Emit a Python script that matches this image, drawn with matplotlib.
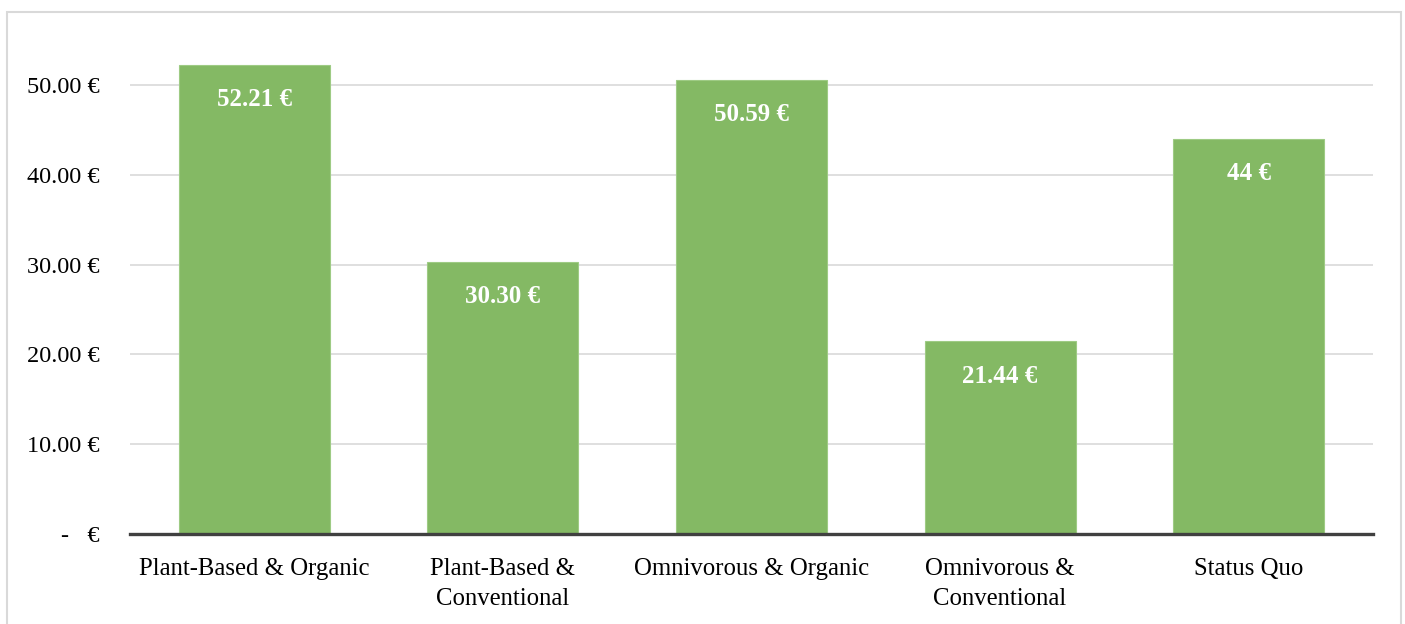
import matplotlib
matplotlib.use("Agg")
import matplotlib.pyplot as plt
from matplotlib.patches import Rectangle

categories = ["Plant-Based & Organic", "Plant-Based &\nConventional", "Omnivorous & Organic",
              "Omnivorous &\nConventional", "Status Quo"]
values = [52.21, 30.30, 50.59, 21.44, 44.0]
value_labels = ["52.21 €", "30.30 €", "50.59 €", "21.44 €", "44 €"]
yticks = [0, 10, 20, 30, 40, 50]
ytick_labels = ["-   €", "10.00 €", "20.00 €", "30.00 €", "40.00 €", "50.00 €"]

plt.rcParams['font.family'] = ['Liberation Serif', 'DejaVu Serif']

fig = plt.figure(figsize=(14.05, 6.24), dpi=100)
fig.patches.append(Rectangle((7/1405, -0.01), (1401-7)/1405, 1 - 12/624 + 0.01,
                             transform=fig.transFigure, fill=False,
                             edgecolor="#D9D9D9", linewidth=1.5))
ax = fig.add_axes([130/1405, 1 - 534/624, (1373-130)/1405, 57*8.98/624])

x = list(range(len(categories)))
ax.bar(x, values, width=0.607, color="#84B964", edgecolor="#9ECB84", linewidth=0.8, zorder=3)
for xi, v, lab in zip(x, values, value_labels):
    ax.text(xi, v - 3.85, lab, ha="center", va="center", color="white",
            fontsize=18, fontweight="bold", zorder=4)

ax.set_xlim(-0.5, len(categories) - 0.5)
ax.set_ylim(0, 57)
ax.set_yticks(yticks)
ax.set_yticklabels(ytick_labels, fontsize=17.5)
ax.set_xticks(x)
ax.set_xticklabels(categories, fontsize=17.8, linespacing=1.52)
ax.yaxis.grid(True, color="#D9D9D9", linewidth=1.2, zorder=0)
ax.tick_params(axis="x", length=0, pad=17)
ax.tick_params(axis="y", length=0, pad=22)
for s in ["top", "right", "left"]:
    ax.spines[s].set_visible(False)
ax.spines["bottom"].set_color("#404040")
ax.spines["bottom"].set_linewidth(2.4)
ax.spines["bottom"].set_zorder(5)

fig.savefig("out.png", dpi=100)
